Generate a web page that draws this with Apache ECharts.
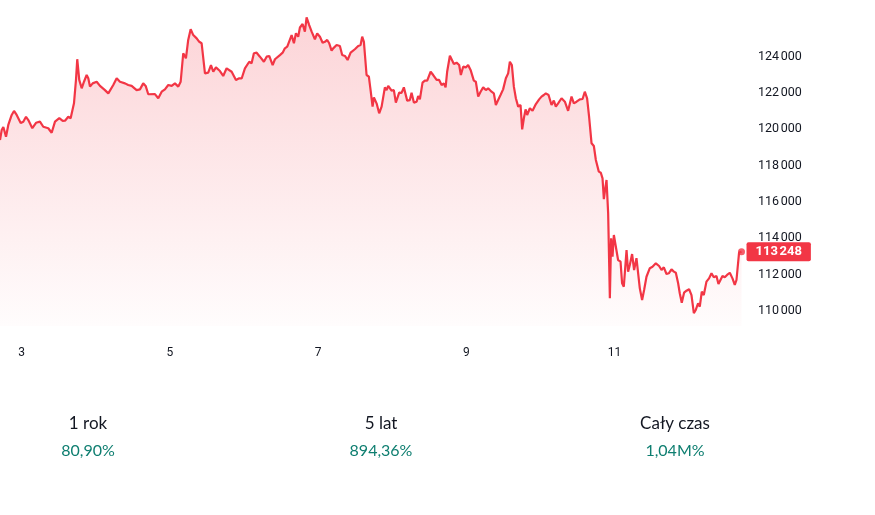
<!DOCTYPE html>
<html><head><meta charset="utf-8">
<script src="https://cdn.jsdelivr.net/npm/echarts@6/dist/echarts.min.js"></script>
<style>html,body{margin:0;padding:0;background:#fff}#c{width:875px;height:515px}</style>
</head><body><div id="c"></div>
<script>
const times = [
2.710,2.733,2.755,2.791,2.822,2.868,2.899,2.935,2.957,2.989,
3.024,3.061,3.092,3.146,3.196,3.249,3.294,3.361,3.407,3.452,
3.510,3.556,3.587,3.631,3.663,3.708,3.735,3.752,3.779,3.812,
3.843,3.879,3.901,3.924,3.960,4.014,4.059,4.126,4.171,4.238,
4.284,4.328,4.396,4.440,4.486,4.553,4.598,4.642,4.675,4.710,
4.733,4.800,4.845,4.891,4.935,4.980,5.026,5.070,5.115,5.147,
5.182,5.218,5.249,5.282,5.317,5.363,5.398,5.430,5.475,5.519,
5.556,5.587,5.623,5.677,5.721,5.767,5.835,5.893,5.937,5.970,
6.014,6.072,6.104,6.135,6.172,6.216,6.270,6.307,6.342,6.388,
6.419,6.486,6.523,6.553,6.585,6.644,6.675,6.702,6.733,6.756,
6.792,6.823,6.846,6.881,6.914,6.935,6.958,6.989,7.026,7.062,
7.093,7.124,7.151,7.183,7.205,7.251,7.295,7.326,7.363,7.399,
7.440,7.497,7.542,7.574,7.596,7.619,7.655,7.686,7.709,7.736,
7.754,7.790,7.825,7.858,7.902,7.925,7.947,7.992,8.023,8.050,
8.095,8.127,8.158,8.203,8.239,8.262,8.293,8.330,8.351,8.374,
8.410,8.441,8.473,8.519,8.554,8.600,8.634,8.667,8.698,8.721,
8.742,8.779,
8.802,8.833,8.869,8.904,8.927,8.958,8.994,9.025,9.058,9.102,
9.129,9.161,9.193,9.228,9.264,9.295,9.341,9.372,9.399,9.430,
9.462,9.497,9.534,9.565,9.588,9.615,9.642,9.669,9.700,9.732,
9.754,9.777,9.800,9.821,9.858,9.894,9.939,9.983,10.015,10.046,
10.073,10.110,10.150,10.181,10.208,10.239,10.285,10.330,10.374,10.420,
10.451,10.488,10.532,10.569,10.599,10.630,10.657,10.690,10.721,10.748,
10.765,10.788,10.815,10.838,10.856,10.869,10.892,10.914,10.937,10.954,
10.973,10.991,11.017,11.048,11.081,11.102,11.125,11.162,11.183,11.206,
11.237,11.264,11.296,11.318,11.341,11.372,11.399,11.431,11.453,11.476,
11.512,11.557,11.601,11.634,11.665,11.701,11.732,11.768,11.800,11.827,
11.858,11.880,11.907,11.938,11.971,12.006,12.038,12.070,12.096,12.127,
12.150,12.177,12.204,12.240,12.275,12.308,12.339,12.375,12.402,12.429,
12.456,12.487,12.518,12.555,12.591,12.622,12.645,12.680,12.713
];
const prices = [
119400,119950,120120,119580,120230,120780,121000,120780,120750,120340,
120410,120680,120500,120050,120350,120410,120130,120050,119800,120410,
120600,120450,120460,120680,120600,121420,122710,123850,122710,122250,
122610,122980,122800,122340,122520,122610,122380,122150,121970,122430,
122800,122610,122520,122430,122380,122150,122190,122520,122380,121920,
121880,121930,121700,122060,122190,122430,122380,122520,122340,122610,
124180,123900,124910,125500,125180,125000,124810,124730,123070,123110,
123530,123160,123400,123200,122930,123350,123160,122710,122800,122790,
123350,123710,123630,124180,124210,123990,123710,123990,124030,123530,
123850,124080,124210,124450,124540,125180,124730,125280,125090,125600,
125790,125370,126160,125730,125370,125280,124950,125270,125090,124760,
124810,124910,124730,124320,124450,124630,124580,124080,124030,123810,
124210,124400,124580,124630,125090,124810,122980,122890,122150,121240,
121750,121420,120870,121240,122300,122150,122380,122120,122150,121460,
122010,122000,122300,121570,121600,122010,121460,121510,121820,121640,
122560,122670,122670,123160,122980,122710,122710,122430,122520,122300,
123160,124040,
124140,123590,123660,123530,122980,123440,123400,123530,123260,122670,
122610,121790,122060,122300,122150,122250,122060,121970,121330,121600,
121880,122190,122800,123070,123710,123530,122340,121700,121240,121330,
119990,120600,121090,120780,121150,121010,121380,121640,121790,121880,
121970,121880,121330,121570,121240,121420,121700,121510,121010,121790,
121420,121510,121640,121660,122060,121700,120680,119220,119070,118300,
118210,117660,117600,117290,116140,116550,117200,115360,110680,113990,
112970,114170,114080,112790,112700,111510,111320,113340,112150,112520,
113120,112240,112890,112790,111230,110590,111140,111870,111840,112340,
112420,112610,112460,112240,112390,112020,112060,112280,112150,112090,
111510,110960,110440,110990,111100,111180,110860,109860,110040,110410,
110220,111050,110860,111600,111780,112060,111840,111910,111470,111690,
111910,111840,111970,112090,111780,111420,111690,113200,113248
];
const xTickValues = [3, 5, 7, 9, 11];
const yTickValues = [110000, 112000, 114000, 116000, 118000, 120000, 122000, 124000];
const statLabels = ['1 rok', '5 lat', 'Cały czas'];
const statValues = ['80,90%', '894,36%', '1,04M%'];

function fmt(v) { return String(Math.round(v)).replace(/\B(?=(\d{3})+(?!\d))/g, '\u202f'); }

const n = Math.min(times.length, prices.length);
const data = [];
for (let i = 0; i < n; i++) data.push([times[i], prices[i]]);
const last = data[n - 1];

const RED = '#F23645';
const TXT = '#131722';
const GREEN = '#0e7e70';
const statX = [88, 381, 675];

const chart = echarts.init(document.getElementById('c'));
chart.setOption({
  animation: false,
  backgroundColor: '#ffffff',
  grid: { left: 0, right: 130, top: 0, height: 347 },
  xAxis: {
    type: 'value', min: 2.71, max: 12.76,
    axisLine: { show: false }, axisTick: { show: false }, splitLine: { show: false },
    axisLabel: { customValues: xTickValues, color: TXT, fontSize: 12, fontFamily: 'Roboto', verticalAlign: 'middle', margin: 6 }
  },
  yAxis: {
    type: 'value', position: 'right', min: 108000, max: 127112, interval: 2000,
    axisLine: { show: false }, axisTick: { show: false }, splitLine: { show: false },
    axisLabel: {
      margin: 13, color: TXT, fontSize: 12.5, fontFamily: 'Roboto',
      showMinLabel: true, showMaxLabel: false,
      formatter: v => yTickValues.indexOf(v) >= 0 ? fmt(v) : ''
    }
  },
  series: [
    {
      type: 'line', data: data, showSymbol: false, smooth: false,
      lineStyle: { color: RED, width: 2.2 },
      areaStyle: {
        origin: 109150,
        color: new echarts.graphic.LinearGradient(0, 0, 0, 326, [
          { offset: 0, color: 'rgba(242,54,69,0.32)' },
          { offset: 1, color: 'rgba(242,54,69,0.02)' }
        ], true)
      },
      endLabel: {
        show: true, distance: 5,
        formatter: p => fmt(p.value[1]),
        color: '#ffffff', backgroundColor: RED, fontWeight: 'bold', fontSize: 13, fontFamily: 'Roboto',
        lineHeight: 14, padding: [3, 9, 2, 9], borderRadius: 2
      },
      z: 3
    },
    {
      type: 'scatter', data: [last], symbolSize: 7,
      itemStyle: { color: RED }, z: 4, silent: true
    }
  ],
  graphic: statLabels.map((s, i) => ({
    type: 'text', x: statX[i], y: 424,
    style: { text: s, textAlign: 'center', textVerticalAlign: 'middle', fontSize: 17, fontFamily: 'Lato', fill: TXT }
  })).concat(statValues.map((s, i) => ({
    type: 'text', x: statX[i], y: 451,
    style: { text: s, textAlign: 'center', textVerticalAlign: 'middle', fontSize: 16, fontFamily: 'Lato', fill: GREEN }
  })))
});
</script></body></html>
